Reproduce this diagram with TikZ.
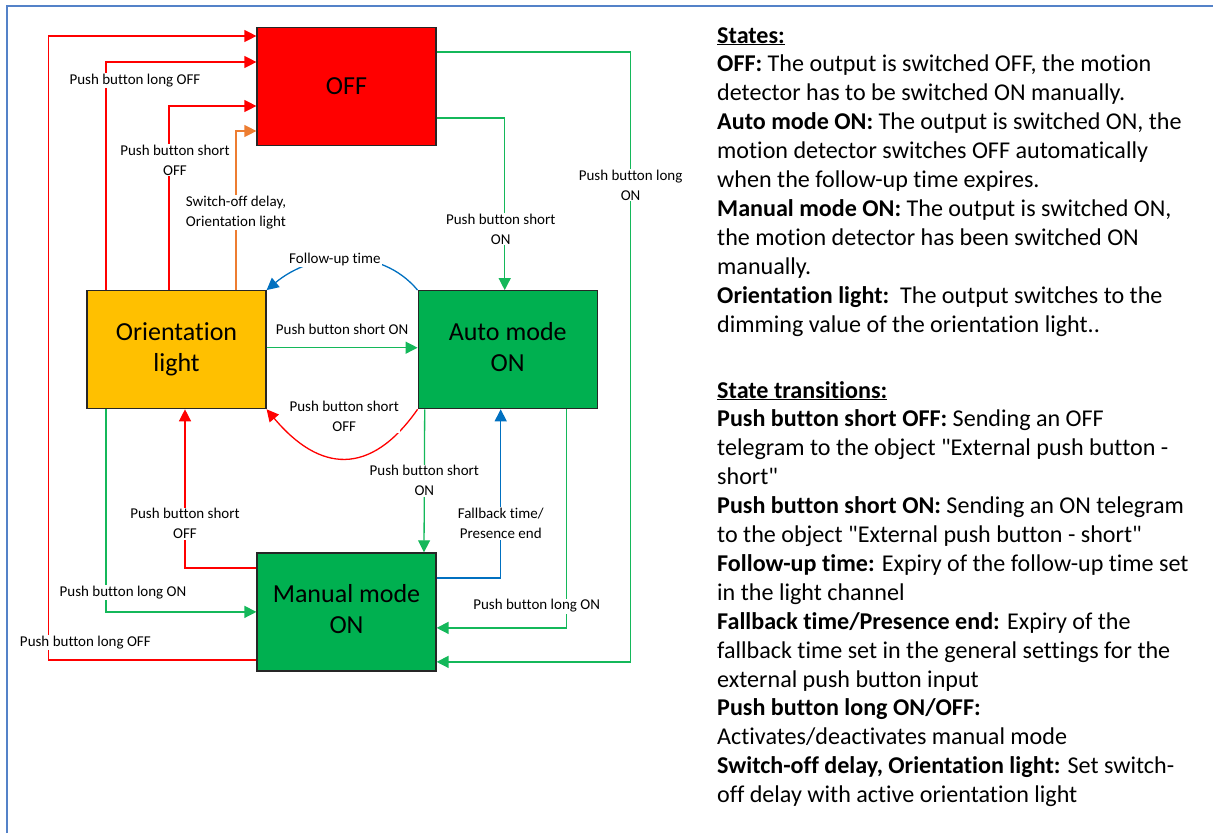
\documentclass[tikz,border=0pt]{standalone}
\usepackage{fontspec}
\setmainfont{Carlito}[Ligatures={NoCommon}]
\usepackage{xcolor}
\usepackage{tikz}
\usetikzlibrary{positioning,arrows.meta}
\definecolor{offred}{RGB}{255,0,0}
\definecolor{stategreen}{RGB}{0,176,80}
\definecolor{linegreen}{RGB}{20,184,90}
\definecolor{orientyellow}{RGB}{255,192,0}
\definecolor{flowblue}{RGB}{0,112,192}
\definecolor{delayorange}{RGB}{237,125,49}
\definecolor{frameblue}{RGB}{84,130,200}

\begin{document}
\begin{tikzpicture}[x=1pt, y=-1pt, node distance=144pt,
    state/.style={rectangle, draw=black!85, line width=1.2pt, minimum width=179pt, minimum height=118pt, align=center, inner sep=0pt, font=\fontsize{26}{31}\selectfont},
    lbl/.style={fill=white, text=black, align=center, inner sep=1pt, font=\fontsize{15}{20}\selectfont},
    conn/.style={line width=1.3pt, -{Triangle[length=12pt,width=12pt]}},
    legend/.style={align=left, inner sep=0pt, font=\fontsize{24.1}{28.9}\selectfont}]
    \useasboundingbox (0,0) rectangle (1213,833);
    \draw[frameblue, line width=1.5pt] (7,833) -- (7,6) -- (1213,6);

    \node[state, fill=offred] (off) at (346.5,86.5) {OFF};
    \node[state, fill=orientyellow, below=144pt of off, xshift=-170pt] (orient) {Orientation\\light};
    \node[state, fill=stategreen, text depth=6pt, right=151pt of orient] (auto) {Auto mode\\ON};
    \node[state, fill=stategreen, text depth=6pt, below=143pt of orient, xshift=170pt] (manual) {Manual mode\\ON};

    % into OFF
    \draw[conn, offred] ([yshift=-48pt]manual.west) -- ++(-208pt,0) |- node[lbl, pos=0.014, xshift=37pt] {Push button long OFF} ([yshift=50.5pt]off.west);
    \draw[conn, offred] ([xshift=-70.5pt]orient.north) |- node[lbl, pos=0.46, xshift=29pt] {Push button long OFF} ([yshift=24.5pt]off.west);
    \draw[conn, offred] ([xshift=-7.5pt]orient.north) |- node[lbl, pos=0.353, xshift=6pt] {Push button short\\OFF} ([yshift=-19.5pt]off.west);
    \draw[conn, delayorange] ([xshift=59.5pt]orient.north) |- node[lbl, pos=0.245] {Switch-off delay,\\Orientation light} ([yshift=-44.5pt]off.west);

    % out of OFF
    \draw[conn, linegreen] ([yshift=-31.5pt]off.east) -| node[lbl, pos=0.823, xshift=-4pt] {Push button short\\ON} ([xshift=-3pt]auto.north);
    \draw[conn, linegreen] ([yshift=34.5pt]off.east) -- ++(194pt,0) |- node[lbl, pos=0.109] {Push button long\\ON} ([yshift=-50pt]manual.east);

    % between orientation light and auto mode
    \draw[conn, flowblue] (auto.north west) to[out=130, in=40] node[lbl, pos=0.56] {Follow-up time} (orient.north east);
    \draw[conn, linegreen] ([yshift=2pt]orient.east) -- node[lbl, above=11pt] {Push button short ON} ([yshift=2pt]auto.west);
    \draw[conn, offred] (auto.south west) to[out=-125, in=-50, looseness=1.4] node[lbl, above=25pt] {Push button short\\OFF} (orient.south east);

    % manual mode
    \draw[conn, linegreen] ([xshift=-70.5pt]orient.south) |- node[lbl, pos=0.453, xshift=17pt] {Push button long ON} (manual.west);
    \draw[conn, offred] ([yshift=44pt]manual.west) -| node[lbl, pos=0.639] {Push button short\\OFF} ([xshift=8.5pt]orient.south);
    \draw[conn, linegreen] ([xshift=-83pt]auto.south) -- node[lbl] {Push button short\\ON} ([xshift=77.5pt]manual.north);
    \draw[conn, flowblue] ([yshift=34pt]manual.east) -| node[lbl, pos=0.661] {Fallback time/\\Presence end} ([xshift=-7pt]auto.south);
    \draw[conn, linegreen] ([xshift=59pt]auto.south) |- node[lbl, pos=0.45, xshift=-30pt] {Push button long ON} ([yshift=-16pt]manual.east);

    \node[legend, anchor=north west] (notes) at (717,27) {%
        \underline{\textbf{States:}}\\
        \textbf{OFF:} The output is switched OFF, the motion\\
        detector has to be switched ON manually.\\
        \textbf{Auto mode ON:} The output is switched ON, the\\
        motion detector switches OFF automatically\\
        when the follow-up time expires.\\
        \textbf{Manual mode ON:} The output is switched ON,\\
        the motion detector has been switched ON\\
        manually.\\
        \textbf{Orientation light:}\ \ The output switches to the\\
        dimming value of the orientation light..\\[37.1pt]
        \underline{\textbf{State transitions:}}\\
        \textbf{Push button short OFF:} Sending an OFF\\
        telegram to the object \textquotedbl External push button -\\
        short\textquotedbl\\
        \textbf{Push button short ON:} Sending an ON telegram\\
        to the object \textquotedbl External push button - short\textquotedbl\\
        \textbf{Follow-up time:} Expiry of the follow-up time set\\
        in the light channel\\
        \textbf{Fallback time/Presence end:} Expiry of the\\
        fallback time set in the general settings for the\\
        external push button input\\
        \textbf{Push button long ON/OFF:}\\
        Activates/deactivates manual mode\\
        \textbf{Switch-off delay, Orientation light:} Set switch-\\
        off delay with active orientation light};
\end{tikzpicture}
\end{document}
